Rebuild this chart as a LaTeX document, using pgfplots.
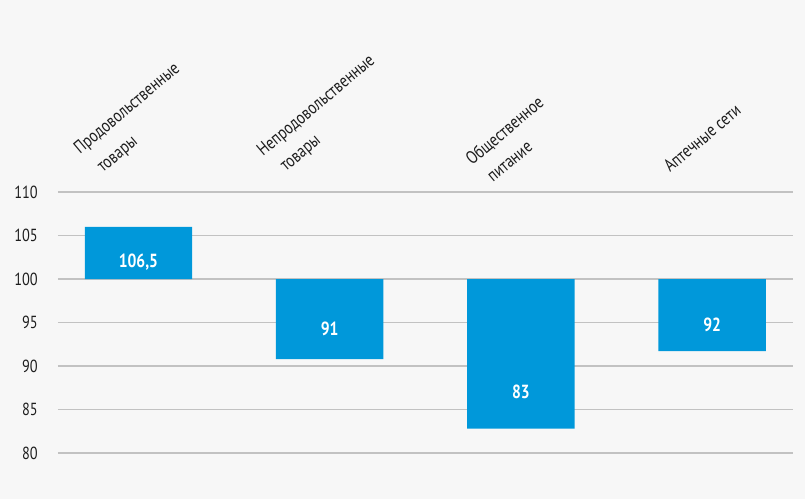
\documentclass[border=0pt]{standalone}
\usepackage{fontspec}
\setmainfont{PT Sans}[FakeStretch=0.82]
\usepackage{pgfplots}
\pgfplotsset{compat=1.18}
\definecolor{bg}{HTML}{F7F7F7}
\definecolor{barblue}{HTML}{0098DA}
\definecolor{gridgray}{HTML}{C2C2C2}
\definecolor{txt}{HTML}{1E1E1E}
\begin{document}
\begin{tikzpicture}
\fill[bg] (-58pt,-46pt) rectangle (747pt,453pt);
\begin{axis}[
  at={(0,0)}, anchor=south west,
  scale only axis, width=735pt, height=261pt,
  xmin=-0.4207, xmax=3.4228,
  ymin=80, ymax=110,
  y coord trafo/.code={\pgfmathparse{#1-100}},
  y coord inv trafo/.code={\pgfmathparse{#1+100}},
  ytick={80,85,90,95,100,105,110},
  yticklabels={80,85,90,95,100,105,110},
  xtick=\empty,
  ymajorgrids,
  major grid style={gridgray, line width=1.6pt},
  axis line style={draw=none},
  major tick length=0pt,
  yticklabel style={font=\fontsize{17.5}{20}\selectfont, text=txt, inner sep=0pt, anchor=east, xshift=-20pt},
  clip=false,
]
\addplot[ybar, bar width=0.5615, fill=barblue, draw=none] coordinates {(0,106) (1,90.8) (2,82.8) (3,91.7)};
\addplot[draw=none, nodes near coords, point meta=explicit symbolic,
  nodes near coords style={anchor=base, text=white, font=\bfseries\fontsize{19}{22}\selectfont, inner sep=0pt}]
  table[meta=lab, row sep=\\] {
  x y lab\\
  0 101.34 106,5\\
  1 93.5 91\\
  2 86.29 83\\
  3 93.94 92\\
};
\end{axis}
\begin{scope}[every node/.style={rotate=40, anchor=base west, inner sep=0pt, font=\fontsize{18}{20}\selectfont, text=txt}]
\node at (22pt,298pt) {Продовольственные};
\node at (45pt,280pt) {товары};
\node at (205pt,296pt) {Непродовольственные};
\node at (228pt,281pt) {товары};
\node at (414pt,287pt) {Общественное};
\node at (435pt,270pt) {питание};
\node at (612pt,280pt) {Аптечные сети};
\end{scope}
\end{tikzpicture}
\end{document}
